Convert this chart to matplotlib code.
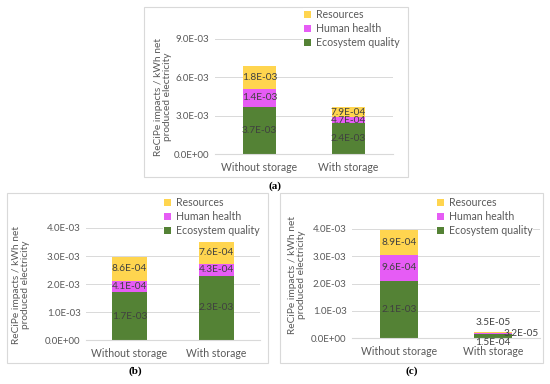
import numpy as np
import matplotlib
matplotlib.use("Agg")
import matplotlib.pyplot as plt
from matplotlib.ticker import FuncFormatter
from matplotlib.patches import Rectangle

plt.rcParams['font.family'] = ['Lato', 'DejaVu Sans']

# data
categories = ["Without storage", "With storage"]
series = ["Ecosystem quality", "Human health", "Resources"]

eco_a = [3.7e-3, 2.4e-3]
hh_a = [1.4e-3, 4.7e-4]
res_a = [1.8e-3, 7.9e-4]

eco_b = [1.7e-3, 2.3e-3]
hh_b = [4.1e-4, 4.3e-4]
res_b = [8.6e-4, 7.6e-4]

eco_c = [2.1e-3, 1.5e-4]
hh_c = [9.6e-4, 3.2e-5]
res_c = [8.9e-4, 3.5e-5]

colors = ["#548235", "#E65CF5", "#FFD54F"]
W, H = 550, 384

fig = plt.figure(figsize=(W / 100, H / 100), dpi=100)


def rect(l, t, r, b):
    return [l / W, 1 - b / H, (r - l) / W, (b - t) / H]


# panel borders
for l, t, r, b in [(144, 7, 408, 177), (7, 193, 268, 363), (280, 193, 543, 363)]:
    fig.patches.append(Rectangle((l / W, 1 - b / H), (r - l) / W, (b - t) / H,
                                 transform=fig.transFigure, fill=False,
                                 edgecolor="#D9D9D9", linewidth=0.8))


def panel(pos, vals, ymax, step, width, leg_xy, ylab_xy, small=False):
    ax = fig.add_axes(rect(*pos))
    x = np.arange(len(categories))
    bottom = np.zeros(len(categories))
    for k, (name, v) in enumerate(zip(series, vals)):
        v = np.array(v)
        ax.bar(x, v, width, bottom=bottom, color=colors[k], label=name)
        for i in range(len(x)):
            txt = f"{v[i]:.1E}"
            yc = bottom[i] + v[i] / 2
            if small and i == 1:
                offs = [(0, -5), (20, 0), (0, 7)][k]
                ax.annotate(txt, (x[i], yc), xytext=offs, textcoords="offset points",
                            ha="center", va="center", fontsize=7.3, color="#404040")
            else:
                ax.text(x[i], yc, txt, ha="center", va="center",
                        fontsize=7.3, color="#404040")
        bottom = bottom + v
    ax.set_xlim(-0.5, 1.5)
    ax.set_ylim(0, ymax)
    ax.set_yticks(np.arange(0, ymax + step / 2, step))
    ax.yaxis.set_major_formatter(FuncFormatter(lambda v, p: f"{v:.1E}"))
    ax.set_xticks(x)
    ax.set_xticklabels(categories)
    ax.tick_params(length=0, labelsize=7, colors="#595959", pad=4)
    ax.tick_params(axis="x", pad=6, labelsize=7.6)
    for s in ax.spines.values():
        s.set_visible(False)
    ax.spines["bottom"].set_visible(True)
    ax.spines["bottom"].set_color("#D9D9D9")
    ax.grid(axis="y", color="#D9D9D9", linewidth=0.7)
    ax.set_axisbelow(True)
    ax.patch.set_alpha(0)
    h, l = ax.get_legend_handles_labels()
    leg = fig.legend(h[::-1], l[::-1], loc="upper left",
                     bbox_to_anchor=(leg_xy[0] / W, 1 - leg_xy[1] / H), frameon=True,
                     fancybox=False, facecolor="white", edgecolor="none", framealpha=1,
                     fontsize=7.6, labelcolor="#595959", handlelength=0.7, handleheight=0.7,
                     handletextpad=0.4, labelspacing=0.3, borderpad=0.1, borderaxespad=0)
    leg.set_zorder(5)
    fig.text(ylab_xy[0] / W, 1 - ylab_xy[1] / H,
             "ReCiPe impacts / kWh net\nproduced electricity", rotation=90,
             ha="center", va="center", fontsize=7.3, color="#595959", linespacing=1.1)
    return ax


panel((215, 39, 393, 154), [eco_a, hh_a, res_a], 9e-3, 3e-3, 0.38, (303, 8), (163, 97))
panel((86, 228, 260, 340), [eco_b, hh_b, res_b], 4e-3, 1e-3, 0.40, (163, 196), (21, 285))
panel((352, 229, 540, 338), [eco_c, hh_c, res_c], 4e-3, 1e-3, 0.40, (436, 196), (297, 275), small=True)

for s, (px, py) in zip(["(a)", "(b)", "(c)"], [(275, 186), (135, 371), (412, 371)]):
    fig.text(px / W, 1 - py / H, s, ha="center", va="center", fontsize=8,
             fontweight="bold", family="Liberation Serif", color="black")

fig.savefig("out.png", dpi=100)
